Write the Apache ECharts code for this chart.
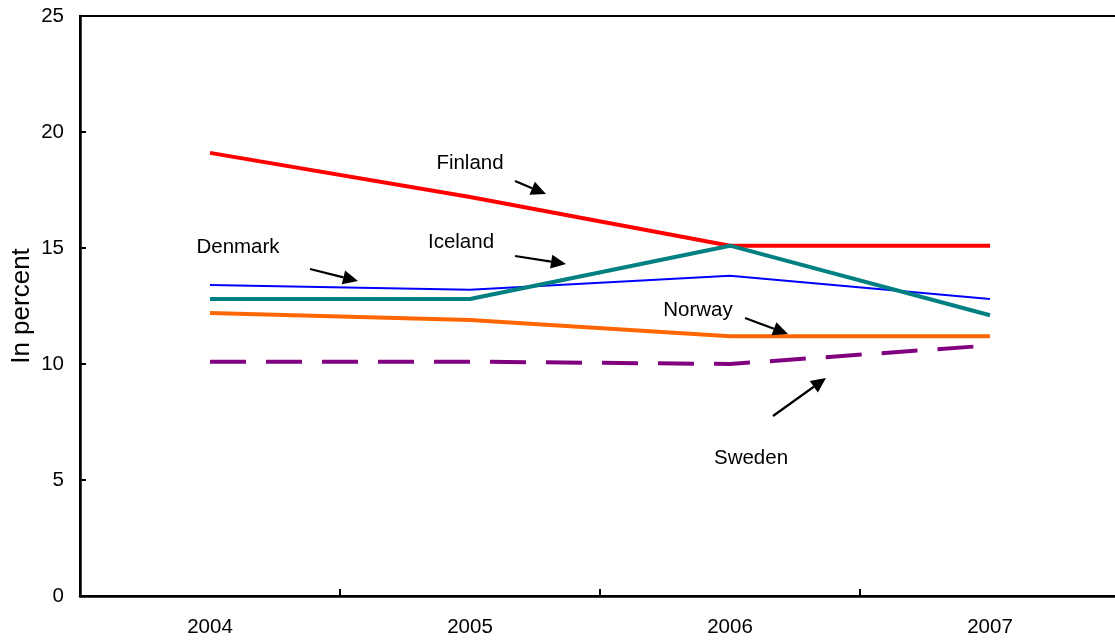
<!DOCTYPE html>
<html>
<head>
<meta charset="utf-8">
<script src="https://cdn.jsdelivr.net/npm/echarts@6/dist/echarts.min.js"></script>
<style>
html,body{margin:0;padding:0;background:#fff;}
#chart{width:1115px;height:644px;}
</style>
</head>
<body>
<div id="chart"></div>
<script>
const years = ['2004', '2005', '2006', '2007'];
const finland = [19.1, 17.2, 15.1, 15.1];
const denmark = [13.4, 13.2, 13.8, 12.8];
const iceland = [12.8, 12.8, 15.1, 12.1];
const norway = [12.2, 11.9, 11.2, 11.2];
const sweden = [10.1, 10.1, 10.0, 10.8];
const yTicks = [0, 5, 10, 15, 20, 25];

const FONT = '"Liberation Sans", Arial, sans-serif';

// annotation layout (pixels): label centre, arrow tail, arrow tip
const notes = [
  { text: 'Finland', tx: 470, ty: 163, x1: 515, y1: 181, x2: 546, y2: 194 },
  { text: 'Denmark', tx: 238, ty: 247, x1: 310, y1: 269, x2: 358, y2: 281 },
  { text: 'Iceland', tx: 461, ty: 242, x1: 515, y1: 256, x2: 566, y2: 264 },
  { text: 'Norway', tx: 698, ty: 310, x1: 745, y1: 318, x2: 788, y2: 334 },
  { text: 'Sweden', tx: 751, ty: 458, x1: 773, y1: 416, x2: 826, y2: 378 }
];

function arrowGraphics(n) {
  const dx = n.x2 - n.x1, dy = n.y2 - n.y1;
  const len = Math.sqrt(dx * dx + dy * dy);
  const ux = dx / len, uy = dy / len;
  const hl = 15, hw = 7;
  const bx = n.x2 - ux * hl, by = n.y2 - uy * hl;
  const px = -uy, py = ux;
  return [
    { type: 'line', z: 100, shape: { x1: n.x1, y1: n.y1, x2: bx, y2: by },
      style: { stroke: '#000', lineWidth: 2.2 } },
    { type: 'polygon', z: 100,
      shape: { points: [[n.x2, n.y2], [bx + px * hw, by + py * hw], [bx - px * hw, by - py * hw]] },
      style: { fill: '#000' } },
    { type: 'text', z: 100, style: { text: n.text, x: n.tx, y: n.ty, font: '20.5px ' + FONT,
      fill: '#000', textAlign: 'center', textVerticalAlign: 'middle' } }
  ];
}

const chart = echarts.init(document.getElementById('chart'), null, { renderer: 'canvas' });

function lineSeries(name, data, color, width, type) {
  return {
    name: name, type: 'line', data: data, symbol: 'none', smooth: false,
    lineStyle: { color: color, width: width, type: type || 'solid' },
    itemStyle: { color: color }, z: 3
  };
}

const option = {
  animation: false,
  backgroundColor: '#fff',
  textStyle: { fontFamily: FONT },
  grid: { left: 80, right: -5, top: 16, bottom: 48, containLabel: false, outerBoundsMode: 'none',
    show: true, borderColor: '#000', borderWidth: 2, backgroundColor: 'transparent' },
  xAxis: {
    type: 'category', data: years, boundaryGap: true,
    axisLine: { lineStyle: { color: '#000', width: 2.5 } },
    axisTick: { show: true, interval: 0, inside: true, length: 7, lineStyle: { color: '#000', width: 2 } },
    axisLabel: { color: '#000', fontSize: 20.5, margin: 21, fontFamily: FONT },
    splitLine: { show: false }
  },
  yAxis: {
    type: 'value', min: 0, max: 25, interval: 5,
    name: 'In percent', nameLocation: 'middle', nameGap: 45, nameRotate: 90,
    nameMoveOverlap: false,
    nameTextStyle: { color: '#000', fontSize: 26, fontFamily: FONT },
    axisLine: { show: true, lineStyle: { color: '#000', width: 2.5 } },
    axisTick: { show: true, inside: true, length: 6, lineStyle: { color: '#000', width: 2 } },
    axisLabel: { color: '#000', fontSize: 20.5, margin: 16, fontFamily: FONT,
      formatter: function (v) { return yTicks.indexOf(v) >= 0 ? String(v) : ''; } },
    splitLine: { show: false }
  },
  series: [
    lineSeries('Finland', finland, '#FF0000', 4),
    lineSeries('Denmark', denmark, '#0000FF', 2),
    lineSeries('Iceland', iceland, '#008080', 4),
    lineSeries('Norway', norway, '#FF6600', 4),
    lineSeries('Sweden', sweden, '#800080', 4, [36, 20])
  ],
  graphic: notes.reduce(function (acc, n) { return acc.concat(arrowGraphics(n)); }, [])
};

chart.setOption(option);
</script>
</body>
</html>
